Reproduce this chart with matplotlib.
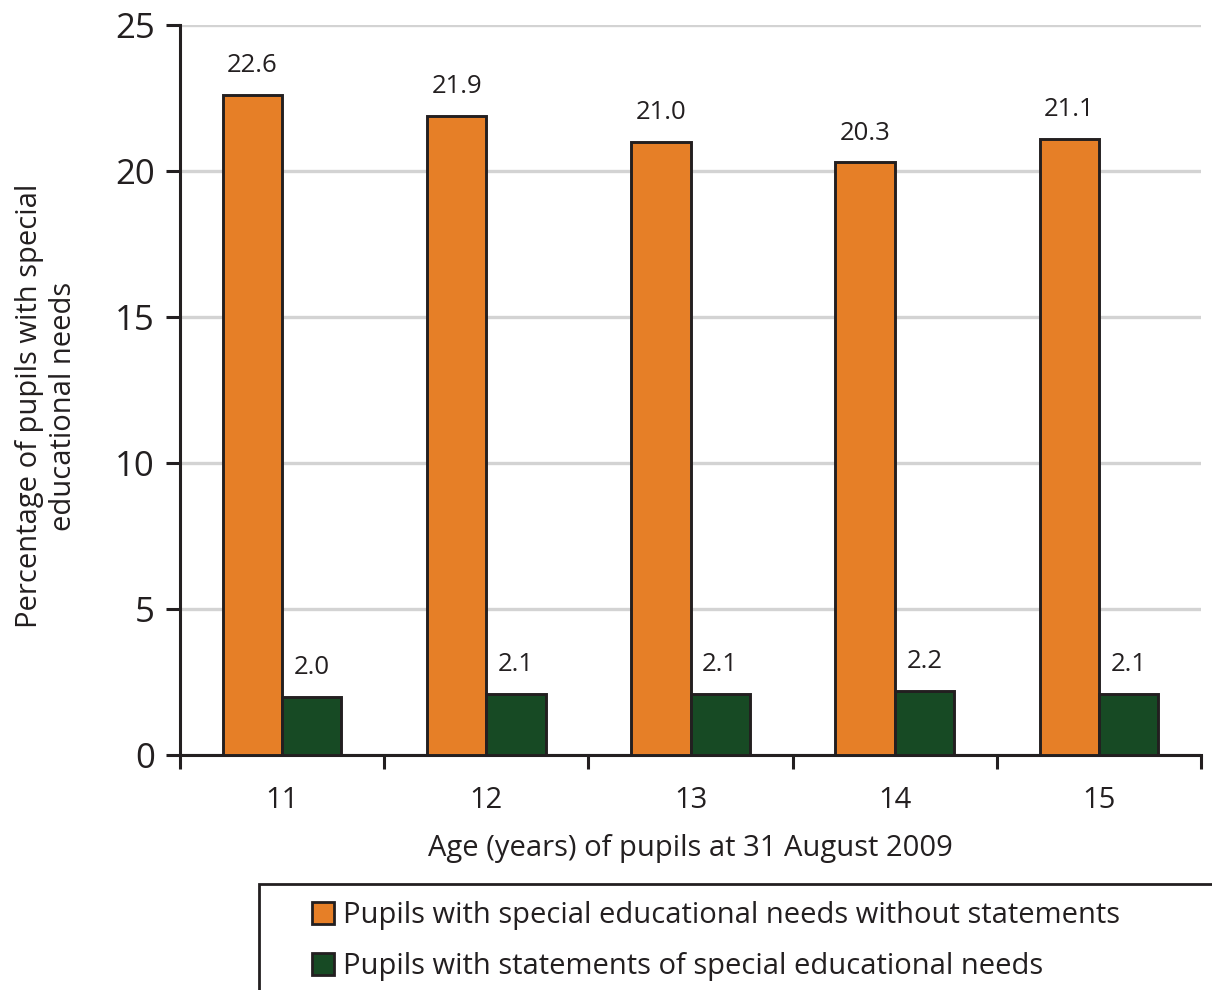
import matplotlib.pyplot as plt
from matplotlib.patches import Rectangle, Patch
import numpy as np

plt.rcParams['font.family'] = ['Open Sans', 'DejaVu Sans']
txt = '#231f20'

# data
ages = ['11', '12', '13', '14', '15']
without_statements = [22.6, 21.9, 21.0, 20.3, 21.1]
with_statements = [2.0, 2.1, 2.1, 2.2, 2.1]
series_names = ['Pupils with special educational needs without statements',
                'Pupils with statements of special educational needs']

orange = '#e67f27'
green = '#174a24'

fig = plt.figure(figsize=(12.12, 9.9), dpi=100)
ax = fig.add_axes([180 / 1212, 1 - 755 / 990, 1021 / 1212, 730 / 990])

x = np.arange(len(ages))
w = 0.29
b1 = ax.bar(x - w / 2, without_statements, w, color=orange, edgecolor=txt, linewidth=2.1, zorder=3)
b2 = ax.bar(x + w / 2, with_statements, w, color=green, edgecolor=txt, linewidth=2.1, zorder=3)

for bars, vals in [(b1, without_statements), (b2, with_statements)]:
    for r, v in zip(bars, vals):
        ax.annotate(f'{v:.1f}', (r.get_x() + r.get_width() / 2, v), xytext=(0, 12),
                    textcoords='offset points', ha='center', va='bottom',
                    fontsize=18.5, color=txt)

ax.set_xlim(-0.5, len(ages) - 0.5)
ax.set_ylim(0, 25)
ax.set_yticks([0, 5, 10, 15, 20, 25])
ax.yaxis.grid(True, color='#d3d3d3', linewidth=2.4, zorder=0)
ax.set_axisbelow(True)

# category ticks sit on the boundaries, labels in the middle
ax.set_xticks(np.arange(-0.5, len(ages)), minor=False)
ax.set_xticklabels([])
ax.set_xticks(x, minor=True)
ax.set_xticklabels(ages, minor=True)
ax.tick_params(axis='x', which='minor', length=0, pad=22, labelsize=21, labelcolor=txt)
ax.tick_params(axis='x', which='major', length=10, width=2.2, color=txt, direction='out')
ax.tick_params(axis='y', length=10, width=2.2, color=txt, labelsize=25, labelcolor=txt, pad=8)

for s in ['top', 'right']:
    ax.spines[s].set_visible(False)
for s in ['left', 'bottom']:
    ax.spines[s].set_color(txt)
    ax.spines[s].set_linewidth(2.2)

ax.set_xlabel('Age (years) of pupils at 31 August 2009', fontsize=21, color=txt, labelpad=14)
ax.set_ylabel('Percentage of pupils with special\neducational needs', fontsize=21,
              color=txt, linespacing=1.2)
ax.yaxis.set_label_coords(-0.1, 0.478)

# legend box runs off the bottom right edge
fig.patches.append(Rectangle((259 / 1212, -0.05), 1.0, 1 - 884 / 990 + 0.05,
                             transform=fig.transFigure, fill=False,
                             edgecolor=txt, linewidth=2.0))
handles = [Patch(facecolor=orange, edgecolor=txt, linewidth=2.0),
           Patch(facecolor=green, edgecolor=txt, linewidth=2.0)]
fig.legend(handles, series_names, loc='upper left',
           bbox_to_anchor=(286 / 1212, 1 - 875 / 990), frameon=False,
           fontsize=21, handlelength=0.75, handleheight=0.75, handletextpad=0.3,
           labelspacing=0.75, labelcolor=txt)

fig.savefig('out.png', dpi=100)
